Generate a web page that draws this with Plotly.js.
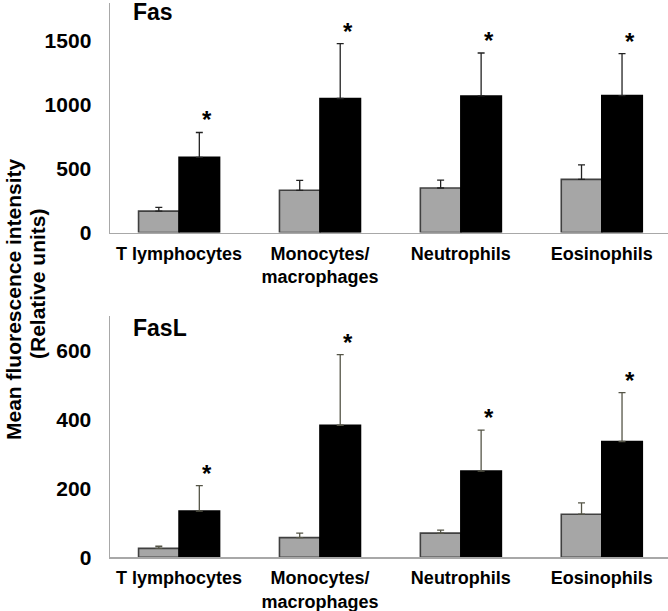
<!DOCTYPE html>
<html>
<head>
<meta charset="utf-8">
<script src="https://cdn.plot.ly/plotly-3.0.1.min.js"></script>
<style>html,body{margin:0;padding:0;background:#fff;}#chart{width:668px;height:611px;}</style>
</head>
<body>
<div id="chart"></div>
<script>
// ---- data ----
const categories = ["T lymphocytes", "Monocytes/macrophages", "Neutrophils", "Eosinophils"];
const tickLabels = ["T lymphocytes", "Monocytes/<br>macrophages", "Neutrophils", "Eosinophils"];

const fasControl = [167, 329, 347, 414];
const fasControlErr = [29, 78, 62, 114];
const fasTreated = [586, 1045, 1065, 1068];
const fasTreatedErr = [194, 428, 335, 327];

const faslControl = [26, 57, 70, 125];
const faslControlErr = [6, 13, 9, 33];
const faslTreated = [134, 383, 250, 336];
const faslTreatedErr = [74, 205, 119, 142];

const panelTitles = ["Fas", "FasL"];
const yTitleLines = ["Mean fluorescence intensity", "(Relative units)"];

// ---- styles ----
const FONT = "Arial, 'Liberation Sans', sans-serif";
const grayFill = "#a6a6a6";

function barTrace(xa, ya, vals, errs, fill, outline, errColor) {
  return {
    type: "bar", x: categories, y: vals, xaxis: xa, yaxis: ya,
    marker: {color: fill, line: {color: outline, width: 1.6}},
    error_y: {type: "data", array: errs, arrayminus: errs.map(() => 0), symmetric: false,
              color: errColor, thickness: 1.3, width: 3.5},
    showlegend: false, hoverinfo: "skip"
  };
}

const data = [
  barTrace("x", "y", fasControl, fasControlErr, grayFill, "#404040", "#222"),
  barTrace("x", "y", fasTreated, fasTreatedErr, "#000", "#000", "#222"),
  barTrace("x2", "y2", faslControl, faslControlErr, grayFill, "#404040", "#555547"),
  barTrace("x2", "y2", faslTreated, faslTreatedErr, "#000", "#000", "#555547")
];

function xAxis(anchor) {
  return {
    domain: [0.1647, 1], anchor: anchor, type: "category",
    range: [-0.49, 3.47],
    tickvals: categories, ticktext: tickLabels,
    showline: true, linecolor: "#a8a8a8", linewidth: 1.5,
    ticks: "", showgrid: false, zeroline: false,
    tickfont: {family: FONT, size: 18, color: "#000", weight: "bold"},
    ticklabelstandoff: 4
  };
}
function yAxis(anchor, domain, range, dtick) {
  return {
    domain: domain, anchor: anchor, range: range, dtick: dtick,
    showline: true, linecolor: "#a8a8a8", linewidth: 1.5,
    ticks: "", showgrid: false, zeroline: false,
    tickfont: {family: FONT, size: 21, color: "#000", weight: "bold"},
    ticklabelstandoff: 13
  };
}

const annotations = [];
function stars(xref, yref, vals, errs) {
  categories.forEach((c, i) => {
    annotations.push({xref: xref, yref: yref, x: i + 0.2, y: vals[i] + errs[i],
      text: "*", showarrow: false, yanchor: "bottom", yshift: -3,
      font: {family: FONT, size: 24, color: "#000", weight: "bold"}});
  });
}
stars("x", "y", fasTreated, fasTreatedErr);
stars("x2", "y2", faslTreated, faslTreatedErr);

annotations.push({xref: "paper", yref: "paper", x: 131/668, y: 1 - 12/611, xanchor: "left", yanchor: "middle",
  text: panelTitles[0], showarrow: false, font: {family: FONT, size: 23, color: "#000", weight: "bold"}});
annotations.push({xref: "paper", yref: "paper", x: 131/668, y: 1 - 328/611, xanchor: "left", yanchor: "middle",
  text: panelTitles[1], showarrow: false, font: {family: FONT, size: 23, color: "#000", weight: "bold"}});
annotations.push({xref: "paper", yref: "paper", x: 14/668, y: 1 - 299/611, xanchor: "center", yanchor: "middle",
  text: yTitleLines[0], textangle: -90, showarrow: false,
  font: {family: FONT, size: 21, color: "#000", weight: "bold"}});
annotations.push({xref: "paper", yref: "paper", x: 37/668, y: 1 - 284/611, xanchor: "center", yanchor: "middle",
  text: yTitleLines[1], textangle: -90, showarrow: false,
  font: {family: FONT, size: 21, color: "#000", weight: "bold"}});

const layout = {
  width: 668, height: 611,
  margin: {l: 0, r: 0, t: 0, b: 0},
  paper_bgcolor: "#fff", plot_bgcolor: "#fff",
  barmode: "group", bargap: 0.425, bargroupgap: 0,
  xaxis: xAxis("y"),
  yaxis: yAxis("x", [1 - 232.5/611, 1 - 3/611], [0, 1790], 500),
  xaxis2: xAxis("y2"),
  yaxis2: yAxis("x2", [1 - 557.3/611, 1 - 316/611], [0, 700], 200),
  annotations: annotations
};

Plotly.newPlot("chart", data, layout, {displayModeBar: false, staticPlot: true});
</script>
</body>
</html>
